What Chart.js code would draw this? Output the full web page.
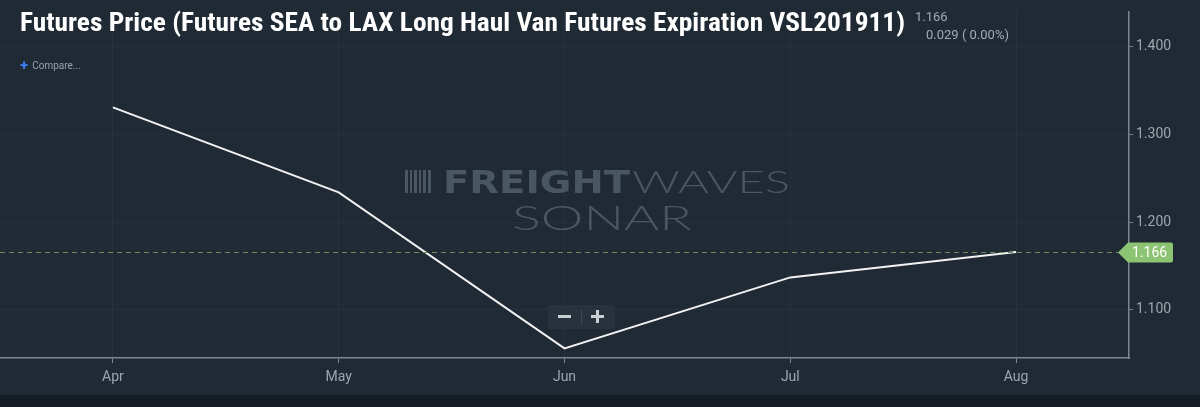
<!DOCTYPE html>
<html><head><meta charset="utf-8">
<script src="https://cdn.jsdelivr.net/npm/chart.js@4"></script>
<style>
html,body{margin:0;padding:0;background:#1f2a35;width:1200px;height:407px;overflow:hidden;font-family:Roboto,"Noto Sans",sans-serif;}
#wrap{position:absolute;left:0;top:0;width:1200px;height:395px;}
#foot{position:absolute;left:0;top:395px;width:1200px;height:12px;background:#161d25;}
#title{position:absolute;left:20px;top:7px;font-family:"Roboto Condensed","Liberation Sans Narrow","DejaVu Sans Condensed",Roboto,sans-serif;font-weight:700;font-size:26px;color:#fff;white-space:nowrap;transform-origin:0 0;}
#last{position:absolute;left:915px;top:9px;font-size:13px;color:#a3abb3;}
#chg{position:absolute;left:926px;top:27px;font-size:13px;color:#a3abb3;}
#cmp{position:absolute;left:20px;top:55px;font-size:10px;color:#9aa2aa;}
#cmp b{color:#3b82f6;font-size:15px;font-weight:700;margin-right:4px;position:relative;top:1px}
#zoom{position:absolute;left:548px;top:305px;width:67px;height:24px;background:#27323d;border-radius:3px;}
#zoom .m{position:absolute;left:10px;top:10px;width:13px;height:3px;background:#c9ced3}
#zoom .p1{position:absolute;left:43px;top:10px;width:13px;height:3px;background:#c9ced3}
#zoom .p2{position:absolute;left:48px;top:5px;width:3px;height:13px;background:#c9ced3}
#zoom i{position:absolute;left:33px;top:5px;width:1px;height:15px;background:#3a4651}
</style></head>
<body>
<div id="wrap"><canvas id="c" width="1200" height="395"></canvas></div>
<div id="foot"></div>
<div id="title">Futures Price (Futures SEA to LAX Long Haul Van Futures Expiration VSL201911)</div>
<div id="last">1.166</div>
<div id="chg">0.029 ( 0.00%)</div>
<div id="cmp"><b>+</b>Compare...</div>
<div id="zoom" aria-label="zoom"><span class="m"></span><i></i><span class="p1"></span><span class="p2"></span></div>
<script>
const months = ["Apr","May","Jun","Jul","Aug"];
const prices = [1.331, 1.234, 1.056, 1.137, 1.166];
const yTicks = [1.1, 1.2, 1.3, 1.4];
const yMin = 1.045, yMax = 1.4406;

(function(){const t=document.getElementById('title');const w=t.getBoundingClientRect().width;t.style.transform='scaleX('+(885/w)+')';})();

function fitText(ctx, txt, font, x0, x1, base){
  ctx.font=font;
  const w=ctx.measureText(txt).width;
  ctx.save();ctx.translate(x0,base);ctx.scale((x1-x0)/w,1);
  ctx.textAlign='left';ctx.textBaseline='alphabetic';
  ctx.fillText(txt,0,0);ctx.restore();
}

const overlay = {
  id:'overlay',
  beforeDatasetsDraw(chart){
    const ctx=chart.ctx;
    ctx.save();
    ctx.fillStyle='#4a5662';
    const bars=[[405,3],[410,2],[414,3],[419,2],[423,3],[428,3]];
    bars.forEach(b=>ctx.fillRect(b[0],170,b[1],23));
    fitText(ctx,'FREIGHT','900 32px "DejaVu Sans", Roboto, sans-serif',443,630,193);
    fitText(ctx,'WAVES','300 32px Lato, "Open Sans", sans-serif',632,790,193);
    fitText(ctx,'SONAR','300 34px Lato, "Open Sans", sans-serif',512,692,230);
    ctx.restore();
  },
  afterDatasetsDraw(chart){
    const ctx=chart.ctx, ca=chart.chartArea, y=chart.scales.y;
    const v=prices[prices.length-1];
    const py=Math.round(y.getPixelForValue(v))+0.5;
    ctx.save();
    ctx.strokeStyle='#6f8c64';ctx.lineWidth=1;ctx.setLineDash([5,4]);
    ctx.beginPath();ctx.moveTo(ca.left,py);ctx.lineTo(ca.right-10,py);ctx.stroke();
    ctx.setLineDash([]);
    const x0=ca.right-11, h=20;
    ctx.fillStyle='#8cc474';
    ctx.beginPath();
    ctx.moveTo(x0,py);
    ctx.lineTo(x0+10,py-h/2);
    ctx.lineTo(ca.right+42,py-h/2);
    ctx.quadraticCurveTo(ca.right+44,py-h/2,ca.right+44,py-h/2+2);
    ctx.lineTo(ca.right+44,py+h/2-2);
    ctx.quadraticCurveTo(ca.right+44,py+h/2,ca.right+42,py+h/2);
    ctx.lineTo(x0+10,py+h/2);
    ctx.closePath();ctx.fill();
    ctx.fillStyle='#ffffff';ctx.font='14px Roboto, sans-serif';ctx.textBaseline='middle';ctx.textAlign='left';
    ctx.fillText(v.toFixed(3),ca.right+3,py+1);
    ctx.restore();
  }
};

new Chart(document.getElementById('c'),{
  type:'line',
  data:{labels:months,datasets:[{data:prices,borderColor:'#f2f2f2',borderWidth:2,pointRadius:0,tension:0,fill:false}]},
  options:{
    responsive:false,animation:false,
    layout:{padding:{top:2,left:0,right:0,bottom:0}},
    plugins:{legend:{display:false},tooltip:{enabled:false}},
    scales:{
      x:{type:'category',offset:true,
        grid:{color:'#25313d',offset:false,drawOnChartArea:true,tickLength:5,tickColor:'#7c868f'},
        border:{color:'#7c868f',width:1.5},
        ticks:{color:'#9ea6ae',font:{family:'Roboto',size:14},padding:6,maxRotation:0},
        afterFit(s){s.height=37;}
      },
      y:{position:'right',min:yMin,max:yMax,
        afterBuildTicks(s){s.ticks=yTicks.map(v=>({value:v}));},
        grid:{color:'#25313d',tickLength:4,tickColor:'#7c868f'},
        border:{color:'#7c868f',width:1.5},
        ticks:{color:'#9ea6ae',font:{family:'Roboto',size:14},padding:3,callback:v=>Number(v).toFixed(3)},
        afterFit(s){s.width=71;}
      }
    }
  },
  plugins:[overlay]
});
</script>
</body></html>
